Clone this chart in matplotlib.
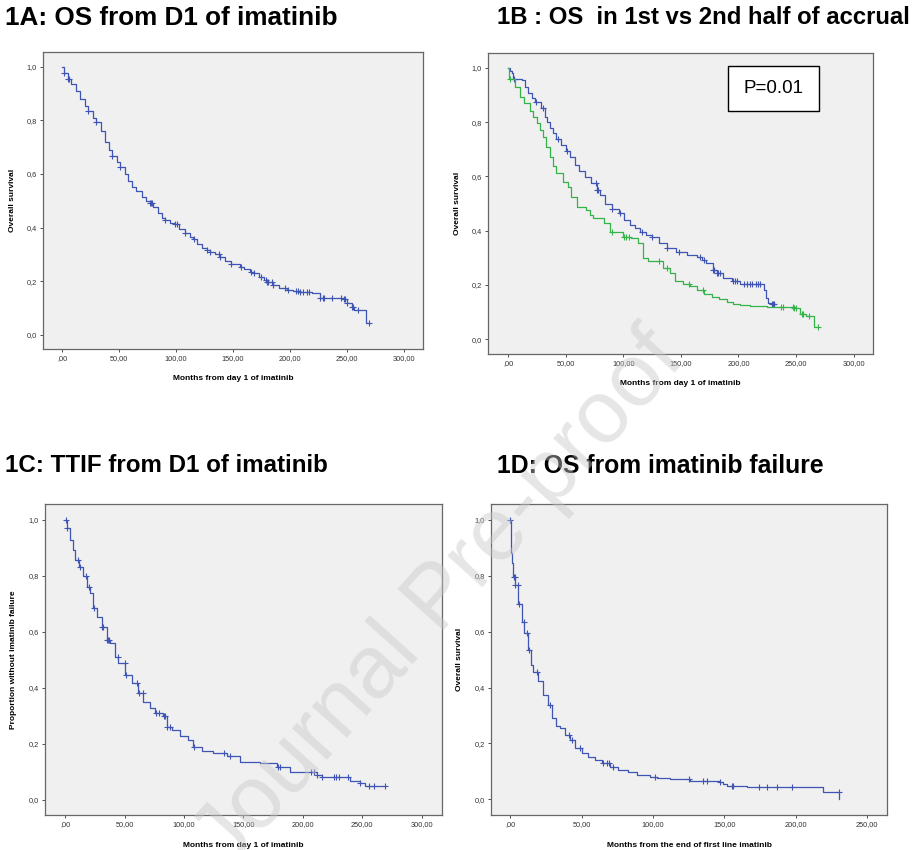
import matplotlib
matplotlib.use('Agg')
import matplotlib.pyplot as plt
import numpy as np
from matplotlib.patches import Rectangle
from matplotlib.ticker import FuncFormatter

plt.rcParams['font.family'] = ['Liberation Sans', 'DejaVu Sans']

# 1A: OS from day 1 of imatinib
a_t = [0, 2, 5, 8, 12, 16, 20, 23, 27, 30, 34, 38, 41, 44, 48, 51, 55, 58, 61, 65,
       70, 74, 77, 80, 84, 88, 90, 95, 99, 103, 108, 112, 115, 118, 123, 127, 130, 134, 139, 143,
       148, 156, 160, 165, 168, 173, 177, 180, 185, 190, 197, 203, 209, 219, 226, 247, 250, 254, 256, 267]
a_s = [1.0, .975, .955, .935, .91, .88, .855, .836, .81, .795, .76, .72, .69, .667, .645, .627, .6, .575, .552, .535,
       .515, .5, .49, .475, .455, .435, .428, .418, .412, .395, .381, .365, .356, .34, .325, .316, .31, .3, .292, .275,
       .264, .252, .245, .235, .229, .215, .204, .198, .185, .175, .169, .163, .16, .157, .139, .132, .117, .104, .092, .045]
a_cens = [2, 5.6, 6.5, 23, 30, 44, 51, 77, 78, 79, 90, 99, 101, 108, 116, 127, 130, 138, 139, 148, 157, 166, 168,
          175, 179, 180, 181, 184, 185, 196, 198, 205, 207, 209, 211, 215, 217, 226, 229, 230, 237, 245, 247, 248,
          250, 254, 255, 260, 269]

# 1B: first half (blue) vs second half (green) of accrual
b1_t = [0, 2, 3.2, 4.6, 12, 15, 17.6, 21, 23.4, 29, 32, 34, 36.4, 39, 42, 46, 50, 54, 58, 62,
        67, 72, 77, 80, 84, 90, 96, 101, 106, 110, 114.5, 120, 124.7, 131, 137.7, 146, 155, 163.7, 168, 172,
        178, 181, 187, 194, 201, 222, 224, 226, 228]
b1_s = [1.0, .99, .98, .958, .956, .93, .909, .89, .873, .851, .82, .8, .777, .76, .737, .715, .694, .67, .642, .62,
        .599, .575, .55, .53, .5, .48, .464, .44, .421, .41, .396, .385, .378, .355, .335, .322, .31, .304, .29, .28,
        .255, .243, .224, .215, .205, .18, .15, .135, .128]
b1_cens = [5, 24, 30, 43, 51, 76, 77, 78, 90, 97, 116, 125, 138, 148, 167, 170, 178, 179, 181, 182, 184, 195,
           197, 199, 205, 207, 210, 212, 215, 217, 219, 229, 230, 231]

b2_t = [0, 1.2, 6, 10.4, 14, 19, 22, 25, 28, 30.7, 33, 36.4, 39, 42, 48, 52.4, 55, 59.6, 68, 71,
        74, 83, 88.5, 100, 107, 113, 117.4, 121.8, 134.8, 140.6, 145, 152, 158, 163.7, 170, 176.7, 183, 189.8, 195, 201,
        210, 224.5, 247.6, 253, 259, 265.6]
b2_s = [1.0, .958, .929, .892, .87, .843, .82, .796, .77, .747, .71, .673, .64, .611, .581, .562, .525, .488, .476, .458,
        .446, .427, .396, .378, .372, .353, .298, .289, .261, .242, .215, .205, .195, .181, .168, .156, .147, .138, .13, .125,
        .123, .119, .113, .094, .084, .043]
b2_cens = [1.5, 90, 101, 102, 105, 131, 138, 157, 169, 237, 239, 247, 248, 250, 255, 256, 261, 269]

# 1C: time to imatinib failure
c_t = [0, 1.1, 3.9, 6.2, 8.1, 11.8, 15.2, 18.5, 20.8, 23.6, 26.4, 30.6, 34.8, 37.6, 41.8, 44.6, 50.2, 55.8, 61.5, 65.7,
       71.3, 75.5, 82.5, 85.3, 89.5, 96.5, 103.6, 107.8, 114.8, 124.6, 135.8, 147, 163.9, 177.9, 189.2, 203.2, 211.6,
       215.8, 239.7, 248, 252.3]
c_s = [1.0, .97, .929, .893, .857, .833, .798, .762, .738, .685, .655, .619, .571, .56, .512, .488, .446, .417, .381, .351,
       .327, .312, .298, .262, .25, .229, .214, .19, .176, .167, .155, .137, .131, .119, .101, .098, .089,
       .081, .068, .062, .051]
c_cens = [0.5, 1.5, 11, 12, 17, 20, 24, 31, 32, 35, 36, 37, 44, 50, 51, 60, 62, 65, 76, 79, 83, 84, 86, 88, 108,
          134, 139, 179, 181, 207, 209, 212, 216, 226, 228, 230, 238, 248, 256, 260, 269]

# 1D: OS from imatinib failure
d_t = [0, 0.3, 0.9, 2.1, 3.3, 5.6, 7.9, 9.8, 12.6, 14.5, 16.1, 19.6, 23.1, 26.6, 29, 31.7, 34.8, 38.3, 41.8, 45.3,
       50, 54.6, 59.3, 64, 69.8, 75.6, 82.6, 88.5, 97.8, 102.5, 111.8, 125.8, 146.8, 149, 151.5, 165.5, 219, 230.4]
d_s = [1.0, .881, .845, .797, .767, .698, .636, .594, .535, .481, .457, .422, .374, .338, .291, .263, .257, .23, .212, .183,
       .165, .153, .141, .129, .117, .105, .099, .087, .081, .075, .072, .067, .063, .055, .049, .043, .027, 0.0]
d_cens = [0, 2.5, 3, 3.5, 5.5, 6, 9.5, 12, 13, 19, 27.5, 41, 43, 49, 65, 68, 69, 72, 101, 125, 135, 138, 147,
          155, 156, 174, 180, 187, 197, 230]

BLUE = '#3f55b3'
GREEN = '#35b34a'


def km(ax, t, s, cens, end, color):
    t = np.array(t + [end])
    s = np.array(s + [s[-1]])
    ax.step(t, s, where='post', color=color, lw=0.9)
    idx = np.searchsorted(t[:-1], cens, side='right') - 1
    ax.plot(cens, s[idx], ls='none', marker='+', color=color, ms=5, mew=0.8)


def xfmt(v, p):
    txt = ('%.2f' % v).replace('.', ',')
    return txt.lstrip('0') if v == 0 else txt


def style(ax, xlim, ylim, xticks, xlabel, ylabel, lx, ly):
    ax.set_facecolor('#f0f0f0')
    ax.set_xlim(xlim)
    ax.set_ylim(ylim)
    ax.set_xticks(xticks)
    ax.set_yticks([0, 0.2, 0.4, 0.6, 0.8, 1.0])
    ax.xaxis.set_major_formatter(FuncFormatter(xfmt))
    ax.yaxis.set_major_formatter(FuncFormatter(lambda v, p: ('%.1f' % v).replace('.', ',')))
    ax.tick_params(labelsize=5.3, length=2.5, width=0.6, pad=2, colors='#333333')
    for sp in ax.spines.values():
        sp.set_color('#666666')
        sp.set_linewidth(0.9)
    ax.set_xlabel(xlabel, fontsize=6, fontweight='bold')
    ax.set_ylabel(ylabel, fontsize=6, fontweight='bold')
    ax.xaxis.set_label_coords(0.5, lx)
    ax.yaxis.set_label_coords(ly, 0.5)


fig = plt.figure(figsize=(9.13, 8.5), dpi=100)

axA = fig.add_axes([0.0471, 0.5894, 0.4162, 0.3494])
km(axA, a_t, a_s, a_cens, 269, BLUE)
style(axA, (-16.7, 316.7), (-0.053, 1.055), range(0, 301, 50),
      'Months from day 1 of imatinib', 'Overall survival', -0.088, -0.072)

axB = fig.add_axes([0.5345, 0.5835, 0.4217, 0.3541])
km(axB, b1_t, b1_s, b1_cens, 232, BLUE)
km(axB, b2_t, b2_s, b2_cens, 269, GREEN)
style(axB, (-17.4, 316.8), (-0.055, 1.055), range(0, 301, 50),
      'Months from day 1 of imatinib', 'Overall survival', -0.086, -0.070)
axB.add_patch(Rectangle((0.623, 0.807), 0.237, 0.15, transform=axB.transAxes,
                        facecolor='white', edgecolor='black', lw=1, zorder=5))
axB.text(0.7415, 0.882, 'P=0.01', transform=axB.transAxes, ha='center', va='center',
         fontsize=13.5, zorder=6)

axC = fig.add_axes([0.0493, 0.0412, 0.4348, 0.3659])
km(axC, c_t, c_s, c_cens, 269, BLUE)
style(axC, (-17.1, 317.1), (-0.054, 1.057), range(0, 301, 50),
      'Months from day 1 of imatinib', 'Proportion without imatinib failure', -0.086, -0.071)

axD = fig.add_axes([0.5378, 0.0412, 0.4337, 0.3659])
km(axD, d_t, d_s, d_cens, 230.4, BLUE)
style(axD, (-13.5, 263.8), (-0.056, 1.057), range(0, 251, 50),
      'Months from the end of first line imatinib', 'Overall survival', -0.086, -0.071)

tfont = dict(fontweight='bold', va='center', ha='left')
fig.text(5 / 913, 1 - 18 / 850, '1A: OS from D1 of imatinib', fontsize=18.8, **tfont)
fig.text(497 / 913, 1 - 18 / 850, '1B : OS  in 1st vs 2nd half of accrual', fontsize=17.2, **tfont)
fig.text(5 / 913, 1 - 466 / 850, '1C: TTIF from D1 of imatinib', fontsize=17.4, **tfont)
fig.text(497 / 913, 1 - 466 / 850, '1D: OS from imatinib failure', fontsize=17.8, **tfont)

# watermark
fig.text(440 / 913, 1 - 600 / 850, 'Journal Pre-proof', fontsize=64, color='#c8c8c8', alpha=0.45,
         rotation=48, ha='center', va='center', rotation_mode='anchor', zorder=10)

fig.savefig('out.png', dpi=100)
